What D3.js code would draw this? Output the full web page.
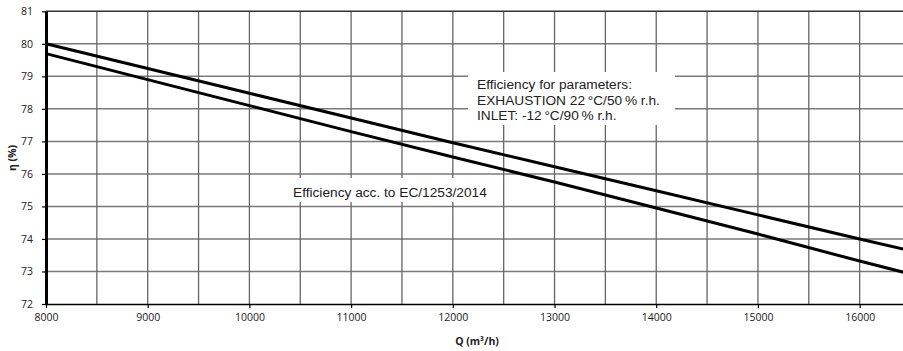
<!DOCTYPE html>
<html>
<head>
<meta charset="utf-8">
<script src="https://cdn.jsdelivr.net/npm/d3@7"></script>
<style>
  html, body { margin: 0; padding: 0; background: #fff; }
  svg { display: block; }
  .tick text { font-family: "Open Sans", sans-serif; font-size: 10.5px; fill: #222; }
  .note { font-family: "Liberation Sans", Arial, sans-serif; font-size: 13.7px; fill: #222; }
  .title { font-family: "Open Sans", sans-serif; font-size: 10.5px; font-weight: bold; fill: #222; }
</style>
</head>
<body>
<svg id="chart" width="903" height="351"></svg>
<script>
// Airflow Q (m3/h) sampled every 1000
const flow = [8000, 9000, 10000, 11000, 12000, 13000, 14000, 15000, 16000, 16500];
// Efficiency for parameters: exhaustion 22 °C/50 % r.h., inlet -12 °C/90 % r.h.
const effParams = [80.0, 79.24, 78.48, 77.72, 76.96, 76.22, 75.48, 74.74, 74.0, 73.64];
// Efficiency according to EC/1253/2014
const effEC = [79.7, 78.9, 78.1, 77.3, 76.52, 75.75, 74.95, 74.15, 73.32, 72.92];

const xTicks = [8000, 9000, 10000, 11000, 12000, 13000, 14000, 15000, 16000];
const xGrid = [8500, 9000, 9500, 10000, 10500, 11000, 11500, 12000, 12500, 13000, 13500, 14000, 14500, 15000, 15500, 16000];
const yTicks = [72, 73, 74, 75, 76, 77, 78, 79, 80, 81];

const noteParams = ["Efficiency for parameters:", "EXHAUSTION 22\u2009°C/50\u2009% r.h.", "INLET: -12\u2009°C/90\u2009% r.h."];
const noteEC = "Efficiency acc. to EC/1253/2014";

const svg = d3.select("#chart");
const plotL = 46, plotR = 910.5, plotT = 11.3, plotB = 304;

const x = d3.scaleLinear().domain([8000, 16500]).range([plotL, plotR]);
const y = d3.scaleLinear().domain([72, 81]).range([plotB, plotT]);

// grid
const grid = svg.append("g");
grid.selectAll("line.h").data(yTicks.filter(v => v > 72 && v < 81)).join("line")
  .attr("x1", plotL).attr("x2", plotR)
  .attr("y1", d => y(d)).attr("y2", d => y(d))
  .attr("stroke", "#7a7a7a").attr("stroke-width", 1.5);
grid.selectAll("line.v").data(xGrid).join("line")
  .attr("x1", d => x(d)).attr("x2", d => x(d))
  .attr("y1", plotT).attr("y2", plotB)
  .attr("stroke", "#666").attr("stroke-width", 1.3);

// top border
svg.append("line").attr("x1", plotL).attr("x2", plotR)
  .attr("y1", plotT).attr("y2", plotT)
  .attr("stroke", "#333").attr("stroke-width", 1.5);

// annotation boxes cover the grid behind the text
svg.append("rect").attr("x", 468).attr("y", 72).attr("width", 207).attr("height", 53).attr("fill", "#fff");
svg.append("rect").attr("x", 285).attr("y", 178).attr("width", 205).attr("height", 24).attr("fill", "#fff");

// curves
const line = d3.line().x((d, i) => x(flow[i])).y(d => y(d));
svg.append("path").datum(effParams).attr("d", line)
  .attr("fill", "none").attr("stroke", "#000").attr("stroke-width", 3);
svg.append("path").datum(effEC).attr("d", line)
  .attr("fill", "none").attr("stroke", "#000").attr("stroke-width", 3);

// axes
const xAxis = svg.append("g").attr("transform", `translate(0,${plotB})`)
  .call(d3.axisBottom(x).tickValues(xTicks).tickFormat(d3.format("d")).tickSize(4).tickPadding(6).tickSizeOuter(0));
xAxis.select(".domain").attr("stroke", "#000").attr("stroke-width", 1.6);
xAxis.selectAll(".tick line").attr("stroke", "#000").attr("stroke-width", 1.2);

const yAxis = svg.append("g").attr("transform", `translate(${plotL},0)`)
  .call(d3.axisLeft(y).tickValues(yTicks).tickFormat(d3.format("d")).tickSize(4).tickPadding(9).tickSizeOuter(0));
yAxis.select(".domain").attr("stroke", "#000").attr("stroke-width", 3);
yAxis.selectAll(".tick line").attr("stroke", "#000").attr("stroke-width", 1.2);

// notes
const t1 = svg.append("text").attr("class", "note").attr("x", 477).attr("y", 89);
t1.selectAll("tspan").data(noteParams).join("tspan")
  .attr("x", 477).attr("dy", (d, i) => i === 0 ? 0 : 15.5).text(d => d);
svg.append("text").attr("class", "note").attr("x", 293).attr("y", 196.5).text(noteEC);

// axis titles
svg.append("text").attr("class", "title").attr("text-anchor", "middle")
  .attr("x", 477).attr("y", 345).text("Q (m³/h)");
svg.append("text").attr("class", "title").attr("text-anchor", "middle")
  .attr("transform", "translate(16,158) rotate(-90)").text("η (%)");
</script>
</body>
</html>
